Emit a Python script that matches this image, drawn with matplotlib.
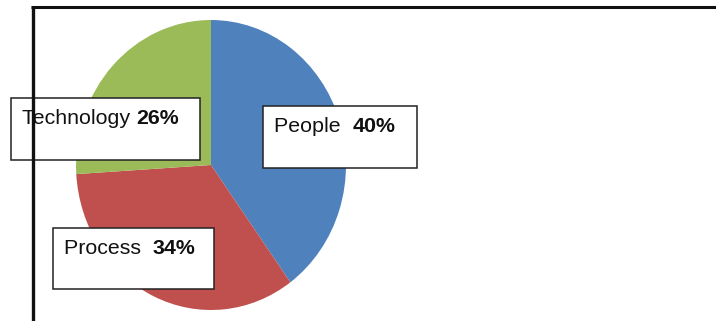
import matplotlib
matplotlib.use("Agg")
import matplotlib.pyplot as plt
from matplotlib.patches import Rectangle

plt.rcParams['font.family'] = ['Liberation Sans', 'DejaVu Sans']

labels = ['People', 'Process', 'Technology']
values = [40, 34, 26]
colors = ['#4f81bd', '#c0504d', '#9bbb59']
# label text between name and percentage
gaps = ['  ', '  ', ' ']

W, H = 716, 321
fig = plt.figure(figsize=(W / 100, H / 100), dpi=100)

# pie: slightly taller than wide, like the original
px0, py0, pw, ph = 76, 20, 270, 290
axp = fig.add_axes([px0 / W, 1 - (py0 + ph) / H, pw / W, ph / H])
axp.pie(values, colors=colors, startangle=90, counterclock=False,
        wedgeprops=dict(linewidth=0))
axp.set_aspect('auto')
axp.set_xlim(-1, 1)
axp.set_ylim(-1, 1)
axp.axis('off')

# overlay in pixel coords
ax = fig.add_axes([0, 0, 1, 1], zorder=2)
ax.set_xlim(0, W)
ax.set_ylim(H, 0)
ax.patch.set_alpha(0)
ax.axis('off')

ax.plot([31, W], [7, 7], color='#111111', lw=2.2, solid_capstyle='butt')
ax.plot([32.5, 32.5], [6, H], color='#111111', lw=2.4, solid_capstyle='butt')

# label boxes: (x, y, w, h) and text anchor
boxes = {
    'People': ((263, 106, 154, 62), (274, 126)),
    'Process': ((53, 228, 161, 61), (64, 248)),
    'Technology': ((11, 98, 189, 62), (22, 119)),
}

for name, v, g in zip(labels, values, gaps):
    (bx, by, bw, bh), (tx, ty) = boxes[name]
    ax.add_patch(Rectangle((bx, by), bw, bh, facecolor='white',
                           edgecolor='#222222', lw=1.1))
    t1 = ax.text(tx, ty, name + g, fontsize=15.4, va='center', ha='left',
                 color='#111111')
    ax.annotate('%d%%' % v, xy=(1, 0.5), xycoords=t1, va='center', ha='left',
                fontsize=15.4, fontweight='bold', color='#111111')

fig.savefig('out.png', dpi=100)
